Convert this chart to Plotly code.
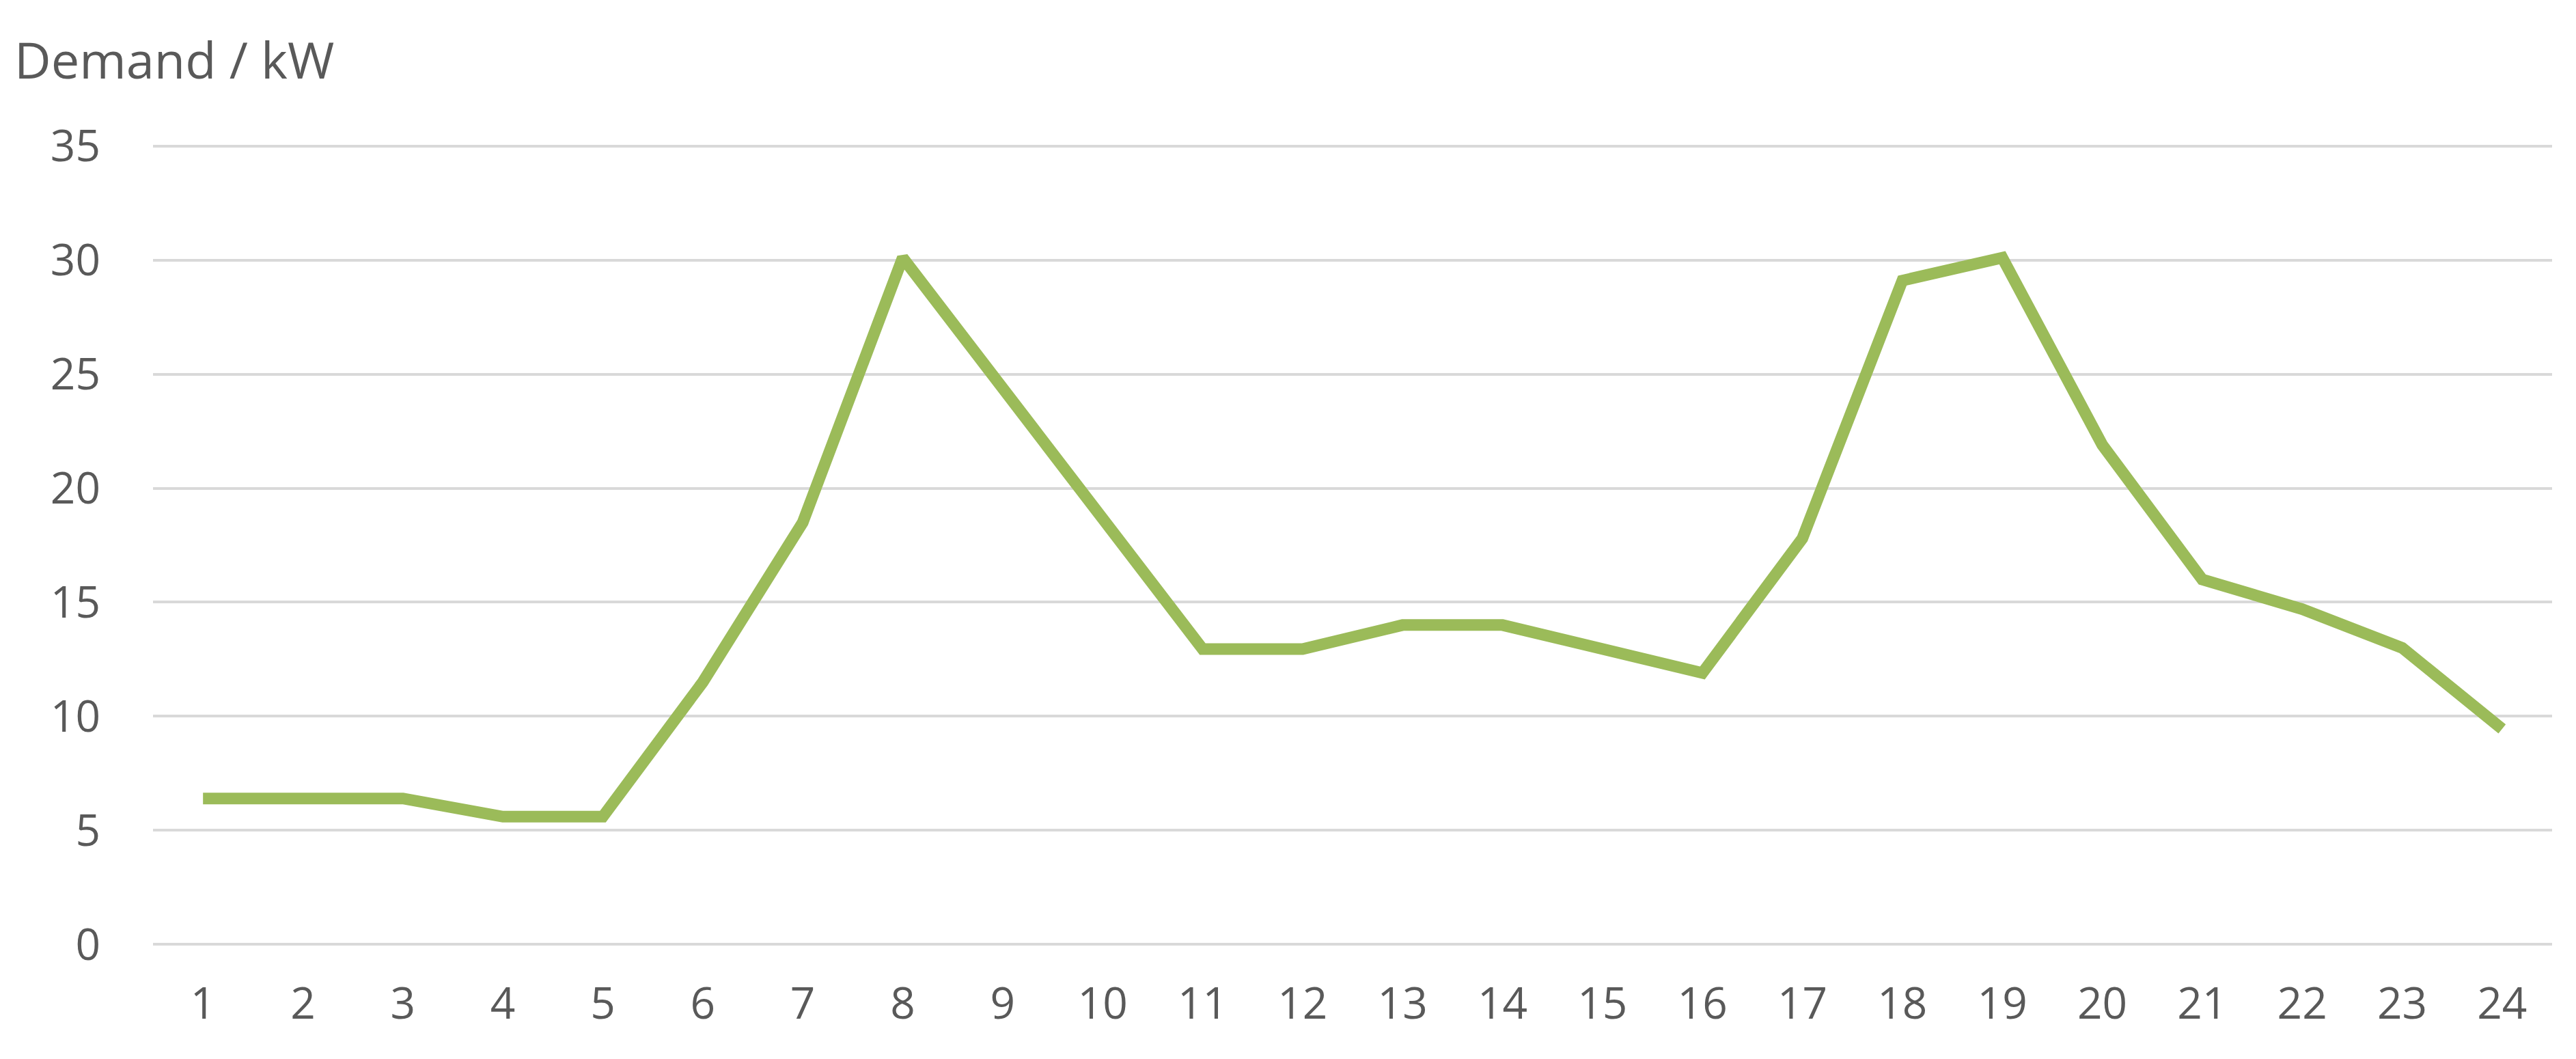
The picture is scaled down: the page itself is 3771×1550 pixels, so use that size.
import plotly.graph_objects as go

hours = list(range(1, 25))
tick_labels = [str(h) for h in hours]
demand_kw = [6.4, 6.4, 6.4, 5.6, 5.6, 11.5, 18.5, 30.1, 24.4, 18.6, 12.95, 12.95,
             14.0, 14.0, 12.95, 11.9, 17.8, 29.1, 30.1, 21.9, 16.0, 14.7, 13.0, 9.45]
y_ticks = [0, 5, 10, 15, 20, 25, 30, 35]
y_title = "Demand / kW"

W, H = 3771, 1550
FONT = "Open Sans"
GREY = "#595959"
L, R, T, B = 216, 43, 203, 173

fig = go.Figure()
fig.add_trace(go.Scatter(
    x=hours, y=demand_kw, mode="lines",
    line=dict(color="#9BBB59", width=17, shape="linear"),
    hoverinfo="x+y", showlegend=False,
))

fig.update_layout(
    width=W, height=H,
    paper_bgcolor="white", plot_bgcolor="white",
    margin=dict(l=L, r=R, t=T, b=B, autoexpand=False),
    font=dict(family=FONT, size=64, color=GREY),
    xaxis=dict(
        range=[0.5, 24.5], tickmode="array", tickvals=hours, ticktext=tick_labels,
        showgrid=False, zeroline=False, showline=False,
        ticks="", ticklabelstandoff=41,
        tickfont=dict(family=FONT, size=64, color=GREY),
    ),
    yaxis=dict(
        range=[-0.08, 35.08], tickmode="array", tickvals=y_ticks,
        showgrid=True, gridcolor="#D9D9D9", gridwidth=4,
        zeroline=False, showline=False,
        ticks="", ticklabelstandoff=76,
        tickfont=dict(family=FONT, size=64, color=GREY),
    ),
    annotations=[dict(
        text=y_title, xref="paper", yref="paper", x=-(L - 11) / (W - L - R), y=1.0,
        xanchor="left", yanchor="middle", yshift=125, showarrow=False,
        font=dict(family=FONT, size=74, color=GREY),
    )],
)

fig.write_html("out.html")
